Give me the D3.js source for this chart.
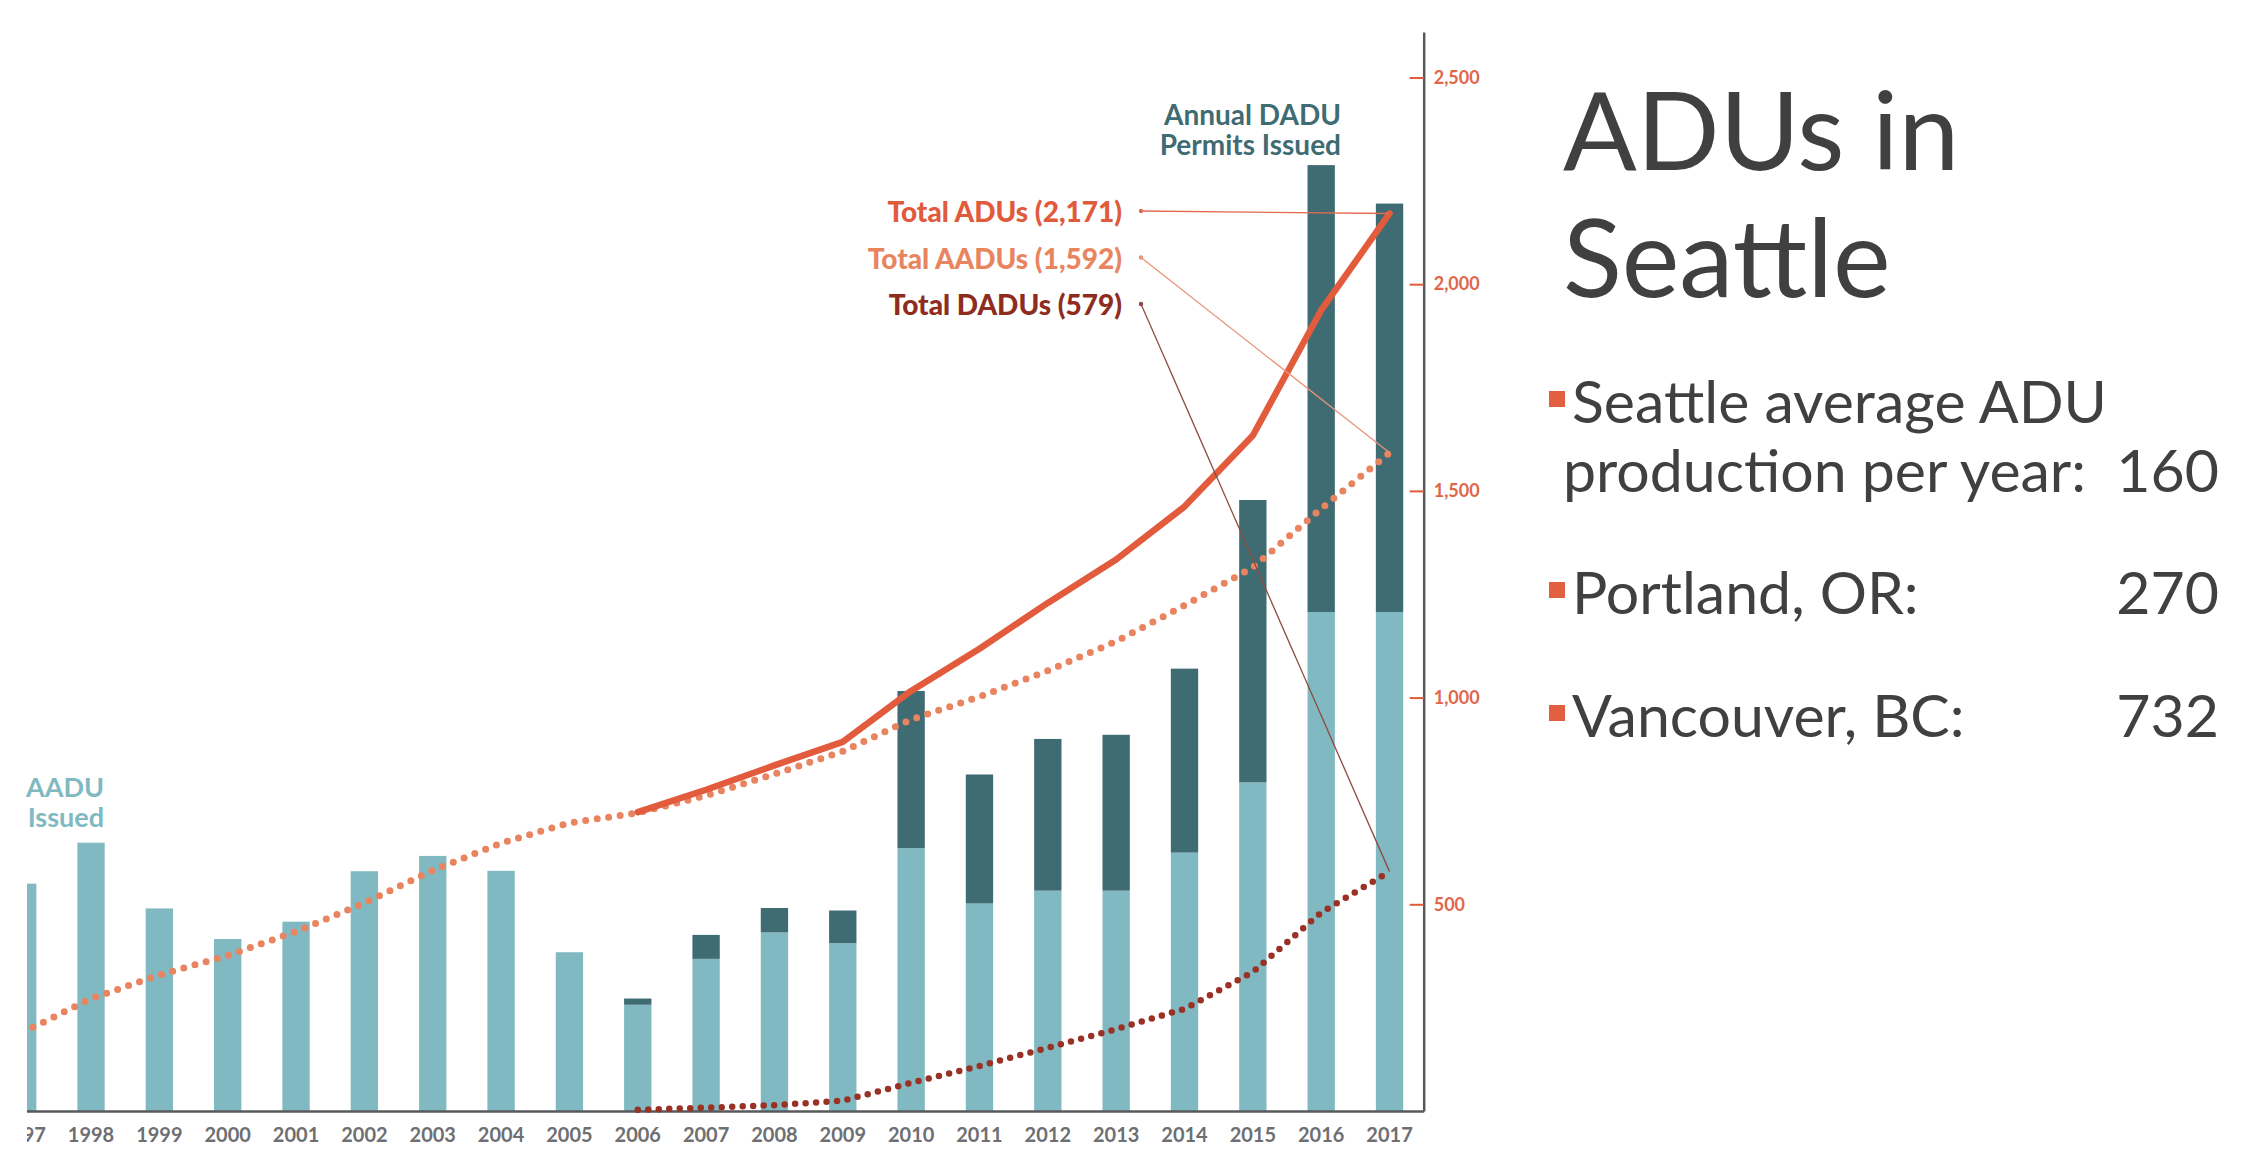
<!DOCTYPE html>
<html>
<head>
<meta charset="utf-8">
<script src="https://cdn.jsdelivr.net/npm/d3@7"></script>
<style>
  html, body { margin: 0; padding: 0; background: #fff; }
  svg { display: block; }
</style>
</head>
<body>
<svg id="chart" width="2254" height="1168"></svg>
<script>
// data
var years = ['1997','1998','1999','2000','2001','2002','2003','2004','2005','2006','2007',
             '2008','2009','2010','2011','2012','2013','2014','2015','2016','2017'];
var aaduAnnual = [550, 649, 490, 416, 458, 580, 617, 581, 384, 257, 368,
                  432, 406, 636, 502, 533, 533, 625, 795, 1207, 1207];
var daduAnnual = [0, 0, 0, 0, 0, 0, 0, 0, 0, 15, 58,
                  59, 79, 380, 312, 367, 377, 445, 683, 1081, 988];
var aaduTotal = [190, 272, 329, 376, 434, 503, 582, 648, 697, 721, 763,
                 815, 870, 947, 1002, 1065, 1136, 1223, 1315, 1457, 1592];
var aduTotal = [null, null, null, null, null, null, null, null, null, 723, 777,
                836, 893, 1016, 1118, 1229, 1334, 1462, 1634, 1937, 2171];
var daduTotal = [null, null, null, null, null, null, null, null, null, 3, 8,
                 14, 25, 68, 109, 153, 198, 247, 336, 480, 579];
var yTicks = [500, 1000, 1500, 2000, 2500];
var totalLabels = ['Total ADUs (2,171)', 'Total AADUs (1,592)', 'Total DADUs (579)'];
var annualDaduLabel = ['Annual DADU', 'Permits Issued'];
var annualAaduLabel = ['AADU', 'Issued'];
var titleLines = ['ADUs in', 'Seattle'];
var bulletLabels = [['Seattle average ADU', 'production per year:'], ['Portland, OR:'], ['Vancouver, BC:']];
var bulletValues = ['160', '270', '732'];

var colLight = '#80b9c1', colDark = '#3f6b73';
var colAdu = '#e25b3c', colAadu = '#e8845f', colDadu = '#9a3125';
var chartFont = 'Lato, "Open Sans", sans-serif';

var svg = d3.select('#chart');

var x = d3.scaleBand().domain(years).range([-11.5, 1423.7]).paddingInner(0.6).paddingOuter(0.3);
var y = d3.scaleLinear().domain([0, 2610]).range([1111, 32]);
var cx = function(yr){ return x(yr) + x.bandwidth() / 2; };

svg.append('defs').append('clipPath').attr('id', 'plotclip')
  .append('rect').attr('x', 27).attr('y', 0).attr('width', 1600).attr('height', 1168);

var g = svg.append('g').attr('clip-path', 'url(#plotclip)');

// stacked bars
var rows = years.map(function(yr, i){ return {year: yr, aadu: aaduAnnual[i], dadu: daduAnnual[i]}; });
var stack = d3.stack().keys(['aadu', 'dadu'])(rows);
var barCols = [colLight, colDark];
g.selectAll('g.layer').data(stack).enter().append('g')
  .attr('class', 'layer')
  .attr('fill', function(d, i){ return barCols[i]; })
  .selectAll('rect').data(function(d){ return d; }).enter().append('rect')
  .attr('x', function(d){ return x(d.data.year); })
  .attr('width', x.bandwidth())
  .attr('y', function(d){ return y(d[1]); })
  .attr('height', function(d){ return y(d[0]) - y(d[1]); });

// bottom axis
var xAxis = g.append('g').attr('transform', 'translate(0,' + y(0) + ')')
  .call(d3.axisBottom(x).tickSize(0).tickPadding(17));
xAxis.select('.domain').attr('stroke', '#58595b').attr('stroke-width', 2.5);
xAxis.selectAll('text').attr('font-family', chartFont).attr('font-weight', 700)
  .attr('font-size', 20).attr('fill', '#6e6f72');

// right axis
var yAxis = svg.append('g').attr('transform', 'translate(' + x.range()[1] + ',0)')
  .call(d3.axisRight(y).tickValues(yTicks).tickSize(0).tickSizeOuter(0).tickFormat(d3.format(',')));
yAxis.select('.domain').attr('stroke', '#58595b').attr('stroke-width', 2.5);
yAxis.selectAll('.tick line').attr('x1', -14).attr('x2', 0).attr('stroke', colAdu).attr('stroke-width', 2);
yAxis.selectAll('.tick text').attr('x', 10).attr('font-family', chartFont).attr('font-weight', 700)
  .attr('font-size', 18).attr('fill', '#e0664a');

// cumulative lines
function series(vals){ return years.map(function(yr, i){ return {year: yr, v: vals[i]}; }); }
var line = d3.line()
  .defined(function(d){ return d.v != null; })
  .x(function(d){ return cx(d.year); })
  .y(function(d){ return y(d.v); });

g.append('path').attr('d', line(series(aaduTotal)))
  .attr('fill', 'none').attr('stroke', colAadu).attr('stroke-width', 7)
  .attr('stroke-linecap', 'round').attr('stroke-dasharray', '0 11.6');
g.append('path').attr('d', line(series(daduTotal)))
  .attr('fill', 'none').attr('stroke', colDadu).attr('stroke-width', 6.5)
  .attr('stroke-linecap', 'round').attr('stroke-dasharray', '0 10.5');
g.append('path').attr('d', line(series(aduTotal)))
  .attr('fill', 'none').attr('stroke', colAdu).attr('stroke-width', 6.5)
  .attr('stroke-linejoin', 'round').attr('stroke-linecap', 'round');

// total labels with leader lines
var lastYear = years[years.length - 1];
var lastVals = [aduTotal[aduTotal.length - 1], aaduTotal[aaduTotal.length - 1], daduTotal[daduTotal.length - 1]];
var labelCols = ['#e05a3b', '#e8855f', '#8e2c20'];
var leaderCols = ['#e36b50', '#e99477', '#8e4a40'];
totalLabels.forEach(function(t, i){
  var ly = 211 + i * 46.5;
  svg.append('line').attr('x1', 1141).attr('y1', ly)
    .attr('x2', cx(lastYear)).attr('y2', y(lastVals[i]))
    .attr('stroke', leaderCols[i]).attr('stroke-width', 1.3);
  svg.append('circle').attr('cx', 1141).attr('cy', ly).attr('r', 2.2).attr('fill', leaderCols[i]);
  svg.append('text').attr('x', 1122).attr('y', ly + 11)
    .attr('text-anchor', 'end').attr('font-family', chartFont).attr('font-weight', 900)
    .attr('font-size', 28).attr('fill', labelCols[i]).text(t);
});

// series labels
annualDaduLabel.forEach(function(t, i){
  svg.append('text').attr('x', 1341).attr('y', 125 + i * 30)
    .attr('text-anchor', 'end').attr('font-family', chartFont).attr('font-weight', 700)
    .attr('font-size', 28).attr('fill', colDark).text(t);
});
annualAaduLabel.forEach(function(t, i){
  svg.append('text').attr('x', 104).attr('y', 797 + i * 30)
    .attr('text-anchor', 'end').attr('font-family', chartFont).attr('font-weight', 700)
    .attr('font-size', 27).attr('fill', colLight).text(t);
});

// title and bullets
var textCol = '#404040';
var sideFont = 'Lato, "Open Sans", sans-serif';
titleLines.forEach(function(t, i){
  svg.append('text').attr('x', 1563).attr('y', 170 + i * 127)
    .attr('font-family', sideFont).attr('font-size', 109).attr('fill', textCol).text(t);
});

var bulletBase = [423, 614, 737];
bulletLabels.forEach(function(lines, i){
  var b = bulletBase[i];
  svg.append('rect').attr('x', 1558 - 9).attr('y', b - 32).attr('width', 16).attr('height', 16)
    .attr('fill', '#e0603f');
  lines.forEach(function(t, j){
    svg.append('text').attr('x', j === 0 ? 1572 : 1563).attr('y', b + j * 69)
      .attr('font-family', sideFont).attr('font-size', 59).attr('fill', textCol).text(t);
  });
  svg.append('text').attr('x', 2219).attr('y', b + (lines.length - 1) * 69)
    .attr('text-anchor', 'end')
    .attr('font-family', sideFont).attr('font-size', 59).attr('fill', textCol).text(bulletValues[i]);
});
</script>
</body>
</html>
